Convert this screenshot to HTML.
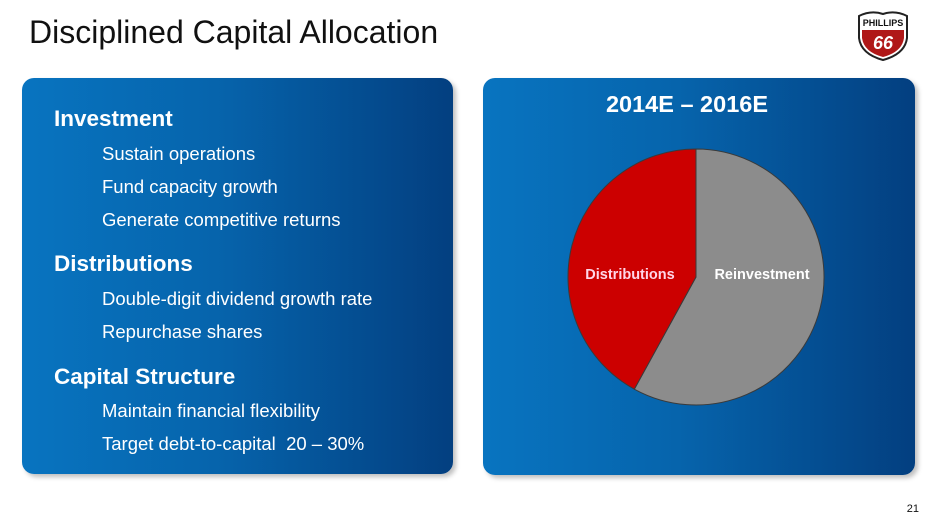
<!DOCTYPE html>
<html><head><meta charset="utf-8"><style>
body{margin:0;width:937px;height:522px;background:#fff;position:relative;overflow:hidden;font-family:"Liberation Sans",sans-serif}
.title{position:absolute;left:29px;top:14px;font-size:32px;color:#111}
.panel{position:absolute;border-radius:12px;background:linear-gradient(90deg,#0874c0 0%,#0664ac 45%,#033f80 100%);box-shadow:3px 3px 5px rgba(0,0,0,.25)}
.h{position:absolute;left:32px;font-size:22.5px;font-weight:bold;color:#fff}
.i{position:absolute;left:80px;font-size:18.5px;color:#fff}
.pg{position:absolute;right:18px;top:503px;font-size:11px;color:#111}
</style></head><body>
<div class="title">Disciplined Capital Allocation</div>
<svg style="position:absolute;left:855px;top:10px" width="56" height="52" viewBox="0 0 56 52">
<path d="M4 6 Q16 0 28 4 Q40 0 52 6 L52 28 Q50 44 28 50 Q6 44 4 28Z" fill="#fff" stroke="#222" stroke-width="2"/>
<path d="M7 20 H49 V28 Q47 42 28 47 Q9 42 7 28Z" fill="#b01818"/>
<text x="28" y="16" font-size="9" font-weight="bold" text-anchor="middle" fill="#111" font-family="Liberation Sans">PHILLIPS</text>
<text x="28" y="39" font-size="18" font-weight="bold" font-style="italic" text-anchor="middle" fill="#fff" font-family="Liberation Sans">66</text>
</svg>
<div class="panel" style="left:22px;top:78px;width:431px;height:396px">
<div class="h" style="top:28px">Investment</div>
<div class="i" style="top:65px">Sustain operations</div>
<div class="i" style="top:98px">Fund capacity growth</div>
<div class="i" style="top:131px">Generate competitive returns</div>
<div class="h" style="top:173px">Distributions</div>
<div class="i" style="top:210px">Double-digit dividend growth rate</div>
<div class="i" style="top:243px">Repurchase shares</div>
<div class="h" style="top:286px">Capital Structure</div>
<div class="i" style="top:322px">Maintain financial flexibility</div>
<div class="i" style="top:355px">Target debt-to-capital&nbsp; 20 – 30%</div>
</div>
<div class="panel" style="left:483px;top:78px;width:432px;height:397px">
<svg id="pie" width="432" height="397" style="position:absolute;left:0;top:0">
<text x="204" y="34" font-size="23.5" font-weight="bold" fill="#fff" text-anchor="middle" font-family="Liberation Sans">2014E – 2016E</text>
</svg>
</div>
<div class="pg">21</div>
<script>
const categories=["Reinvestment","Distributions"];
const values=[58,42];
const colors=["#8c8c8c","#cc0000"];
const svg=document.getElementById('pie');
const cx=213,cy=199,r=128;
const total=values.reduce((a,b)=>a+b,0);
let a0=0;
values.forEach((v,i)=>{
  const a1=a0+v/total*Math.PI*2;
  const p=(a)=>[cx+r*Math.sin(a),cy-r*Math.cos(a)];
  const s=p(a0),e=p(a1);
  const large=(a1-a0)>Math.PI?1:0;
  const path=document.createElementNS('http://www.w3.org/2000/svg','path');
  path.setAttribute('d',`M${cx},${cy} L${s[0]},${s[1]} A${r},${r} 0 ${large} 1 ${e[0]},${e[1]} Z`);
  path.setAttribute('fill',colors[i]);
  path.setAttribute('stroke','#3a3a3a');
  path.setAttribute('stroke-width','1');
  
  
  svg.appendChild(path);
  const mid=(a0+a1)/2;
  const t=document.createElementNS('http://www.w3.org/2000/svg','text');
  const dir=Math.sin(mid)>=0?1:-1;
  t.setAttribute('x',cx+dir*66);
  t.setAttribute('y',cy+2);
  t.setAttribute('text-anchor','middle');
  t.setAttribute('font-size','14.5');
  t.setAttribute('font-weight','bold');
  t.setAttribute('font-family','Liberation Sans');
  t.setAttribute('fill',i===0?'#fff':'#ffd6e8');
  t.textContent=categories[i];
  
  
  svg.appendChild(t);
  a0=a1;
});
</script>
</body></html>
